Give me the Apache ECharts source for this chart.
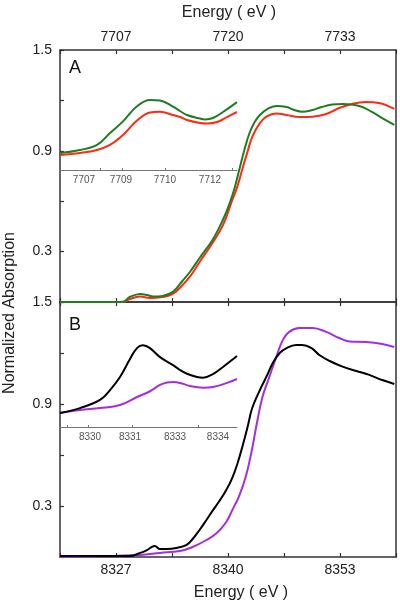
<!DOCTYPE html>
<html><head><meta charset="utf-8">
<script src="https://cdn.jsdelivr.net/npm/echarts@6/dist/echarts.min.js"></script>
<style>html,body{margin:0;padding:0;background:#fff}#c{width:400px;height:605px}</style>
</head><body><div id="c"></div>
<script>
// ---- Panel A (main) ----
const energyGreenA = [7700.5,7705.1,7707.8,7708.6,7709.8,7710.6,7711.3,7712.4,7713.6,7714.7,7715.6,7716.7,7718.2,7719.4,7720.2,7720.8,7721.3,7721.9,7722.5,7723.1,7723.7,7724.6,7725.6,7726.8,7727.7,7728.6,7729.8,7730.9,7732.1,7733.3,7734.4,7735.6,7736.7,7737.9,7739.3];
const absGreenA = [0.0,0.0,0.002,0.03,0.048,0.042,0.032,0.036,0.06,0.125,0.18,0.262,0.369,0.488,0.589,0.685,0.786,0.905,1.006,1.071,1.113,1.15,1.167,1.161,1.143,1.133,1.143,1.161,1.175,1.179,1.175,1.161,1.131,1.095,1.054];
const energyRedA = [7700.5,7707.8,7708.6,7709.8,7710.9,7712.4,7713.6,7714.7,7715.6,7716.7,7718.2,7719.4,7720.5,7721.1,7721.7,7722.3,7722.8,7723.7,7724.5,7725.6,7726.8,7728.3,7729.8,7731.4,7732.9,7734.4,7736.0,7737.5,7739.3];
const absRedA = [0.0,0.0,0.018,0.032,0.024,0.03,0.048,0.1,0.152,0.238,0.351,0.456,0.607,0.69,0.798,0.9,0.982,1.065,1.105,1.122,1.113,1.101,1.103,1.119,1.155,1.179,1.19,1.185,1.149];
const xTicksA = [7700.5,7707,7713.5,7720,7726.5,7733,7739.5];
const xLabelsA = [7707,7720,7733];

// ---- Panel A (inset) ----
const insetPosGreenA = [0,0.455,0.841,1.136,1.432,1.75,2.045,2.273,2.568,2.727,2.886,3.182,3.295,3.477,3.705,4.023];
const insetGreenA = [0.887,0.905,0.935,1.006,1.075,1.165,1.203,1.2,1.163,1.137,1.113,1.092,1.087,1.095,1.131,1.19];
const insetPosRedA = [0,0.455,0.841,1.136,1.432,1.75,2.045,2.273,2.568,2.727,2.886,3.182,3.341,3.568,3.795,4.023];
const insetRedA = [0.875,0.887,0.905,0.935,0.994,1.08,1.128,1.133,1.113,1.101,1.083,1.065,1.062,1.071,1.101,1.131];
const insetLabelPosA = [0.545,1.386,2.386,3.409];
const insetLabelsA = ['7707','7709','7710','7712'];
const insetTickPosA = [0.909,1.409,2.386,3.909];

// ---- Panel B (main) ----
const energyBlackB = [8320.5,8328.6,8329.8,8330.6,8331.5,8332.1,8332.9,8334.0,8335.2,8335.9,8336.7,8337.5,8338.2,8339.0,8339.8,8340.5,8341.1,8341.7,8342.3,8342.8,8343.7,8344.5,8345.2,8346.0,8346.8,8347.9,8348.6,8349.7,8350.6,8351.8,8353.3,8354.9,8356.4,8357.9,8359.3];
const absBlackB = [0.006,0.006,0.024,0.041,0.065,0.047,0.047,0.053,0.071,0.106,0.159,0.218,0.271,0.329,0.394,0.466,0.55,0.655,0.771,0.875,0.982,1.065,1.141,1.2,1.229,1.247,1.247,1.229,1.188,1.153,1.12,1.094,1.071,1.041,1.018];
const energyPurpleB = [8320.5,8329.8,8332.1,8334.4,8335.9,8337.5,8338.7,8339.8,8340.5,8341.3,8342.1,8342.8,8343.4,8344.0,8344.8,8345.6,8346.3,8347.1,8348.3,8349.8,8351.4,8352.9,8354.1,8356.0,8357.9,8359.3];
const absPurpleB = [0.0,0.012,0.024,0.035,0.059,0.1,0.141,0.206,0.276,0.36,0.48,0.637,0.8,0.941,1.059,1.176,1.27,1.324,1.347,1.347,1.324,1.288,1.268,1.265,1.253,1.235];
const xTicksB = [8320.5,8327,8333.5,8340,8346.5,8353,8359.5];
const xLabelsB = [8327,8340,8353];

// ---- Panel B (inset) ----
const insetPosBlackB = [0,0.455,0.909,1.136,1.364,1.591,1.75,1.886,2.045,2.273,2.568,2.727,2.886,3.114,3.25,3.477,3.705,4.023];
const insetBlackB = [0.847,0.876,0.924,0.982,1.059,1.165,1.229,1.245,1.229,1.176,1.129,1.1,1.078,1.059,1.055,1.076,1.118,1.182];
const insetPosPurpleB = [0,0.455,0.909,1.364,1.75,2.045,2.273,2.432,2.568,2.727,2.955,3.25,3.477,3.795,4.023];
const insetPurpleB = [0.847,0.865,0.876,0.894,0.941,0.975,1.012,1.027,1.029,1.024,1.006,0.996,1.0,1.024,1.047];
const insetLabelPosB = [0.682,1.591,2.614,3.591];
const insetLabelsB = ['8330','8331','8333','8334'];
const insetTickPosB = [0.159,0.636,1.636,3.136];

// ---- Y axis ----
const yTicks = [0,0.3,0.6,0.9,1.2,1.5];
const yLabels = [0.3,0.9,1.5];

const zip = (xs, ys) => xs.map((x, i) => [x, ys[i]]);
const FONT = 'Liberation Sans, Arial, sans-serif';
const axisCol = '#333';

function mainX(grid, pos, ticks, labels, min, max, showLabels) {
  return {
    type: 'value', gridIndex: grid, position: pos, min: min, max: max,
    axisLine: { show: true, onZero: false, lineStyle: { color: axisCol, width: 1.5 } },
    axisTick: { show: true, inside: true, length: 4, customValues: ticks, lineStyle: { color: axisCol, width: 1.2 } },
    axisLabel: { show: showLabels, customValues: labels, margin: 6, fontSize: 14, color: '#222', fontFamily: FONT,
                 formatter: v => String(Math.round(v)) },
    splitLine: { show: false }
  };
}
function mainY(grid) {
  return {
    type: 'value', gridIndex: grid, min: 0, max: 1.5, position: 'left',
    axisLine: { show: true, onZero: false, lineStyle: { color: axisCol, width: 1.5 } },
    axisTick: { show: true, inside: true, length: 4, customValues: yTicks, lineStyle: { color: axisCol, width: 1.2 } },
    axisLabel: { show: true, customValues: yLabels, margin: 8, fontSize: 14, color: '#222', fontFamily: FONT,
                 formatter: v => v.toFixed(1) },
    splitLine: { show: false }
  };
}
function rightY(grid) {
  return {
    type: 'value', gridIndex: grid, min: 0, max: 1.5, position: 'right',
    axisLine: { show: true, onZero: false, lineStyle: { color: axisCol, width: 1.5 } },
    axisTick: { show: false }, axisLabel: { show: false }, splitLine: { show: false }
  };
}
function insetX(grid, labelPos, labels, tickPos) {
  return {
    type: 'value', gridIndex: grid, position: 'bottom', min: 0, max: 4.023,
    axisLine: { show: true, onZero: false, lineStyle: { color: '#777', width: 1 } },
    axisTick: { show: true, inside: true, length: 2, customValues: tickPos, lineStyle: { color: '#777', width: 1 } },
    axisLabel: { show: true, customValues: labelPos, margin: 5, fontSize: 10, color: '#555', fontFamily: FONT,
                 formatter: v => { const i = labelPos.findIndex(p => Math.abs(p - v) < 1e-6); return i >= 0 ? labels[i] : ''; } },
    splitLine: { show: false }
  };
}
function insetY(grid, min) {
  return { type: 'value', gridIndex: grid, min: min, max: 1.5, show: false, splitLine: { show: false } };
}
function line(xi, yi, data, color, w) {
  return { type: 'line', xAxisIndex: xi, yAxisIndex: yi, data: data, showSymbol: false,
           smooth: 0.4,
           lineStyle: { color: color, width: w }, itemStyle: { color: color }, silent: true, animation: false };
}

const GREEN = '#1f7d1f', RED = '#ff2a14', PURPLE = '#a32ee0', BLACK = '#000';

const option = {
  animation: false,
  backgroundColor: '#fff',
  grid: [
    { left: 60, top: 50, width: 336, height: 252 },
    { left: 60, top: 50, width: 177, height: 120 },
    { left: 60, top: 302, width: 336, height: 255 },
    { left: 60, top: 302, width: 177, height: 125 }
  ],
  xAxis: [
    mainX(0, 'top', xTicksA, xLabelsA, 7700.5, 7739.5, true),
    mainX(0, 'bottom', xTicksA, xLabelsA, 7700.5, 7739.5, false),
    insetX(1, insetLabelPosA, insetLabelsA, insetTickPosA),
    mainX(2, 'top', xTicksB, xLabelsB, 8320.5, 8359.5, false),
    mainX(2, 'bottom', xTicksB, xLabelsB, 8320.5, 8359.5, true),
    insetX(3, insetLabelPosB, insetLabelsB, insetTickPosB)
  ],
  yAxis: [
    mainY(0), rightY(0), insetY(1, 1.5 - 120 / 168),
    mainY(2), rightY(2), insetY(3, 1.5 - 125 / 170)
  ],
  series: [
    line(0, 0, zip(energyRedA, absRedA), RED, 2),
    line(0, 0, zip(energyGreenA, absGreenA), GREEN, 2),
    line(2, 2, zip(insetPosRedA, insetRedA), RED, 2),
    line(2, 2, zip(insetPosGreenA, insetGreenA), GREEN, 2),
    line(4, 3, zip(energyPurpleB, absPurpleB), PURPLE, 2),
    line(4, 3, zip(energyBlackB, absBlackB), BLACK, 2),
    line(5, 5, zip(insetPosPurpleB, insetPurpleB), PURPLE, 2),
    line(5, 5, zip(insetPosBlackB, insetBlackB), BLACK, 2)
  ],
  graphic: [
    { type: 'text', x: 229, y: 13, style: { text: 'Energy ( eV )', font: '16px ' + FONT, fill: '#222', align: 'center', verticalAlign: 'middle' } },
    { type: 'text', x: 241, y: 593, style: { text: 'Energy ( eV )', font: '16px ' + FONT, fill: '#222', align: 'center', verticalAlign: 'middle' } },
    { type: 'text', x: 10, y: 313, rotation: Math.PI / 2, style: { text: 'Normalized Absorption', font: '16px ' + FONT, fill: '#222', align: 'center', verticalAlign: 'middle' } },
    { type: 'text', x: 75, y: 68, style: { text: 'A', font: '18px ' + FONT, fill: '#111', align: 'center', verticalAlign: 'middle' } },
    { type: 'text', x: 75, y: 325, style: { text: 'B', font: '18px ' + FONT, fill: '#111', align: 'center', verticalAlign: 'middle' } }
  ]
};

const chart = echarts.init(document.getElementById('c'), null, { renderer: 'canvas' });
chart.setOption(option);
</script>
</body></html>
